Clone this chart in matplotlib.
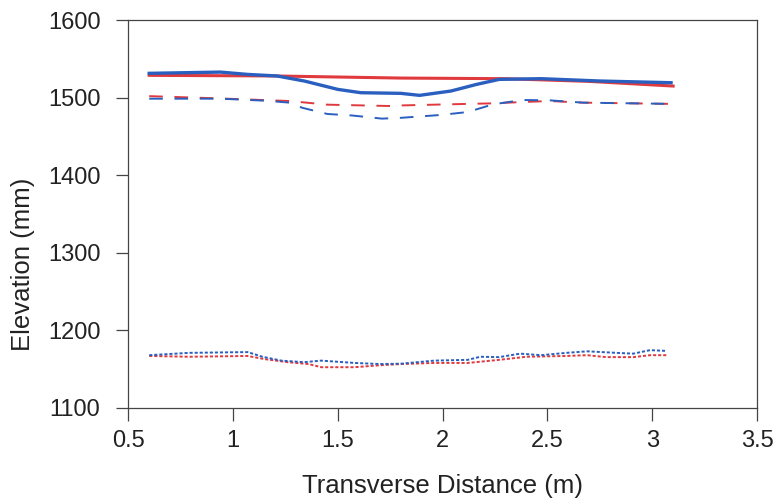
#!/usr/bin/env python
# elevation profiles across the section

import matplotlib
matplotlib.use('Agg')
import matplotlib.pyplot as plt, numpy as np

plt.rcParams['font.family'] = ['Liberation Sans', 'DejaVu Sans']

# solid lines (upper)
x_red_solid = [0.6, 1.2, 1.8, 2.3, 2.7, 3.1]
y_red_solid = [1528.8, 1528.0, 1525.3, 1524.5, 1521.0, 1515.0]

x_blue_solid = [0.6, 0.94, 1.07, 1.21, 1.34, 1.5, 1.61, 1.8, 1.89, 2.04, 2.16, 2.27, 2.47, 2.75, 3.09]
y_blue_solid = [1531.4, 1533.0, 1530.0, 1528.0, 1521.5, 1510.7, 1506.4, 1505.6, 1503.0, 1508.6, 1517.0, 1523.6, 1524.5, 1521.5, 1519.3]

# dashed lines
x_red_dash = [0.6, 0.94, 1.27, 1.45, 1.74, 1.8, 2.12, 2.24, 2.38, 2.51, 2.67, 3.09]
y_red_dash = [1502.0, 1499.0, 1495.7, 1491.0, 1489.3, 1490.0, 1492.0, 1492.7, 1494.4, 1495.7, 1493.6, 1492.0]

x_blue_dash = [0.6, 0.94, 1.16, 1.27, 1.33, 1.45, 1.57, 1.71, 1.8, 1.99, 2.12, 2.24, 2.38, 2.51, 2.67, 3.09]
y_blue_dash = [1498.7, 1498.7, 1496.0, 1493.6, 1487.0, 1479.0, 1477.0, 1473.0, 1474.0, 1477.7, 1481.5, 1491.4, 1497.0, 1496.6, 1493.6, 1492.0]

# dotted lines (lower)
x_red_dot = [0.6, 0.79, 1.07, 1.15, 1.26, 1.36, 1.42, 1.58, 1.7, 1.8, 1.96, 2.12, 2.27, 2.4, 2.59, 2.69, 2.78, 2.91, 2.99, 3.07]
y_red_dot = [1167.0, 1166.0, 1167.0, 1163.0, 1159.0, 1156.6, 1152.5, 1152.5, 1155.0, 1156.6, 1158.0, 1158.0, 1162.0, 1166.0, 1167.0, 1168.0, 1165.5, 1165.5, 1168.0, 1168.0]

x_blue_dot = [0.6, 0.79, 1.07, 1.14, 1.23, 1.34, 1.42, 1.58, 1.7, 1.8, 1.96, 2.12, 2.18, 2.27, 2.37, 2.47, 2.59, 2.69, 2.83, 2.91, 2.99, 3.07]
y_blue_dot = [1168.0, 1171.0, 1172.0, 1166.0, 1161.0, 1159.0, 1161.0, 1158.0, 1156.6, 1157.0, 1161.0, 1162.0, 1166.0, 1165.5, 1170.0, 1168.0, 1171.0, 1173.0, 1171.0, 1170.0, 1174.5, 1173.5]

red = '#e0393e'
blue = '#2a5fc0'

fig = plt.figure(figsize=(7.82, 5.03), dpi=100)
ax = fig.add_axes([0.164, 0.189, 0.804, 0.771])

ax.plot(x_red_solid, y_red_solid, '-', color=red, lw=2.2)
ax.plot(x_blue_solid, y_blue_solid, '-', color=blue, lw=2.4)
ax.plot(x_red_dash, y_red_dash, color=red, lw=1.4, dashes=(7, 6))
ax.plot(x_blue_dash, y_blue_dash, color=blue, lw=1.4, dashes=(7, 6))
ax.plot(x_red_dot, y_red_dot, color=red, lw=1.4, dashes=(1.6, 1.0))
ax.plot(x_blue_dot, y_blue_dot, color=blue, lw=1.4, dashes=(1.6, 1.0))

ax.set_xlim(0.5, 3.5)
ax.set_ylim(1100, 1600)
ax.set_xticks(np.arange(0.5, 3.51, 0.5))
ax.set_xticklabels(['0.5', '1', '1.5', '2', '2.5', '3', '3.5'])
ax.set_yticks(np.arange(1100, 1601, 100))

for s in ax.spines.values():
    s.set_color('#444444')
    s.set_linewidth(0.9)
ax.tick_params(direction='out', length=9, width=0.9, color='#444444',
               labelsize=17, pad=7, labelcolor='#222222')
ax.tick_params(axis='y', pad=11)

ax.set_xlabel('Transverse Distance (m)', fontsize=18.5, color='#222222')
ax.set_ylabel('Elevation (mm)', fontsize=18.5, color='#222222')
# label positions in axes fraction (y label sits a bit below centre)
ax.xaxis.set_label_coords(0.5, -0.170)
ax.yaxis.set_label_coords(-0.148, 0.371)

fig.savefig('out.png', dpi=100)
